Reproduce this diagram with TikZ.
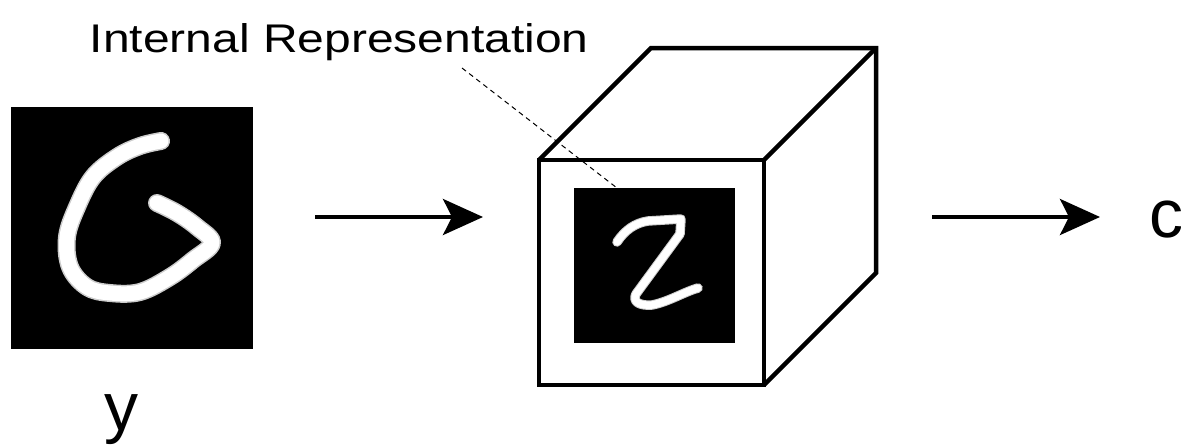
\documentclass[tikz,border=0pt]{standalone}
\usepackage{fontspec}
\setmainfont{Liberation Sans}
\usetikzlibrary{arrows.meta}
\begin{document}
\begin{tikzpicture}[x=1pt,y=-1pt,
  flow/.style={line width=4pt,-{Stealth[length=40pt,width=36pt,inset=9pt]}},
  cubeedge/.style={line width=4.5pt,line join=miter},
  pic/.style={fill=black,inner sep=0pt,outer sep=0pt},
  halo/.style={gray!40,line cap=round,line join=round},
  ink/.style={white,line cap=round,line join=round},
  big/.style={anchor=base west,inner sep=0pt,font=\fontsize{68}{76}\selectfont}]
\useasboundingbox (0,0) rectangle (1181,447);

% input digit: a hand-drawn six on black
\node[pic,minimum width=242pt,minimum height=242pt] (img6) at (132,228) {};
\foreach \w/\s in {18/halo,15/ink}
  \draw[\s,line width=\w pt] plot[smooth,tension=0.6] coordinates {
    (161,141) (140,146) (117,157) (93,177) (77,207) (67,237) (70,267)
    (87,287) (110,293) (140,292) (170,277) (193,260) (212,243)
    (197,227) (177,213) (157,203)};

% the cube
\node[draw,cubeedge,minimum width=225pt,minimum height=225pt,inner sep=0pt,outer sep=0pt]
  (front) at (651.5,272.5) {};
\draw[cubeedge] (front.north west) -- ++(112,-112) -- ++(225,0) -- ++(0,225)
  -- (front.south east);
\draw[cubeedge] (front.north east) -- ++(112,-112);

% internal representation: a two on black
\node[pic,minimum width=161pt,minimum height=155pt] (rep) at (654.5,265.5) {};
\foreach \w/\s in {9.5/halo,7.5/ink}
  \draw[\s,line width=\w pt] (617,242) .. controls (625,230) and (635,223) .. (648,221)
    -- (681,219) -- (680,234) -- (636,294)
    .. controls (632,302) and (640,306) .. (652,305)
    .. controls (668,302) and (684,292) .. (698,288);

% labels
\node[anchor=base west,inner sep=0pt,font=\fontsize{40}{48}\selectfont] (title) at (89.5,52)
  {\scalebox{1.2}[1]{Internal Representation}};
\node[big] (inp) at (104,430) {y};
\node[big] (out) at (1149,237) {c};

% leader from the label to the inner picture
\coordinate (lead) at (462,68);
\draw[line width=1pt,dash pattern=on 5pt off 4pt] (lead) -- ([xshift=43pt]rep.north west);

% flow arrows
\coordinate (lvl) at (0,217);
\draw[flow,shorten <=62pt,shorten >=56pt] (img6.east |- lvl) -- (front.west |- lvl);
\draw[flow,shorten <=168pt,shorten >=49pt] (front.east |- lvl) -- (out.west |- lvl);
\end{tikzpicture}
\end{document}
